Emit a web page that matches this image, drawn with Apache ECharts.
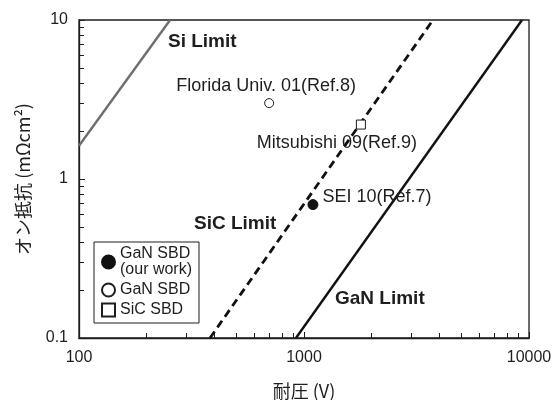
<!DOCTYPE html>
<html>
<head>
<meta charset="utf-8">
<script src="https://cdn.jsdelivr.net/npm/echarts@6/dist/echarts.min.js"></script>
<style>
  html, body { margin: 0; padding: 0; background: #fff; }
  #chart { width: 555px; height: 400px; }
</style>
</head>
<body>
<div id="chart"></div>
<script>
// limit lines (breakdown voltage V, on-resistance mΩcm2)
var siLimit = [[100, 1.62], [254, 10]];
var sicLimit = [[382, 0.1], [3744, 10]];
var ganLimit = [[921, 0.1], [9310, 10]];

// reported devices
var ourWork = [[1096, 0.69]];     // SEI 10
var ganSbd = [[700, 3.0]];        // Florida Univ. 01
var sicSbd = [[1790, 2.2]];       // Mitsubishi 09

var font = 'Liberation Sans, Arial, Noto Sans CJK JP';
var ink = '#1e1e1e';

var myChart = echarts.init(document.getElementById('chart'));
myChart.setOption({
  animation: false,
  textStyle: { fontFamily: font },
  grid: {
    left: 79, right: 26, top: 20, bottom: 62,
    outerBoundsMode: 'none',
    show: true, borderColor: ink, borderWidth: 1.3
  },
  legend: {
    orient: 'vertical',
    left: 94, top: 242,
    padding: [4, 7, 5, 7],
    borderColor: ink, borderWidth: 1,
    itemWidth: 13, itemHeight: 13, itemGap: 4,
    textStyle: { fontSize: 16, color: ink, lineHeight: 16, fontFamily: font },
    data: ['GaN SBD\n(our work)', 'GaN SBD', 'SiC SBD']
  },
  xAxis: {
    type: 'log', logBase: 10, min: 100, max: 10000,
    name: '耐圧 (V)', nameLocation: 'middle', nameGap: 44,
    nameTextStyle: { fontSize: 18, color: ink, fontFamily: 'Noto Sans CJK JP' },
    axisLine: { lineStyle: { color: ink, width: 1.3 } },
    axisTick: { inside: true, length: 6, lineStyle: { color: ink } },
    minorTick: { show: true, splitNumber: 9, length: 5, lineStyle: { color: ink } },
    axisLabel: { fontSize: 16, color: ink, margin: 12, formatter: function (v) { return String(v); } },
    splitLine: { show: false }
  },
  yAxis: {
    type: 'log', logBase: 10, min: 0.1, max: 10,
    name: 'オン抵抗 (mΩcm²)', nameLocation: 'middle', nameGap: 47,
    nameTextStyle: { fontSize: 18, color: ink, fontFamily: 'Noto Sans CJK JP' },
    axisLine: { lineStyle: { color: ink, width: 1.3 } },
    axisTick: { inside: true, length: 6, lineStyle: { color: ink } },
    minorTick: { show: true, splitNumber: 9, length: 5, lineStyle: { color: ink } },
    axisLabel: { fontSize: 16, color: ink, margin: 11, formatter: function (v) { return String(v); } },
    splitLine: { show: false }
  },
  series: [
    {
      name: 'Si Limit', type: 'line', data: siLimit, symbol: 'none',
      lineStyle: { color: '#6e6e6e', width: 2.4 }, z: 2
    },
    {
      name: 'SiC Limit', type: 'line', data: sicLimit, symbol: 'none',
      lineStyle: { color: '#111', width: 2.8, type: [8, 5] }, z: 2
    },
    {
      name: 'GaN Limit', type: 'line', data: ganLimit, symbol: 'none',
      lineStyle: { color: '#111', width: 2.4 }, z: 2
    },
    {
      name: 'GaN SBD\n(our work)', type: 'scatter', data: ourWork,
      symbol: 'circle', symbolSize: 10,
      itemStyle: { color: '#111', borderColor: '#111', borderWidth: 1, opacity: 1 },
      label: {
        show: true, position: 'right', distance: 4, offset: [0, -8],
        formatter: 'SEI 10(Ref.7)', fontSize: 18, color: ink
      }, z: 5
    },
    {
      name: 'GaN SBD', type: 'scatter', data: ganSbd,
      symbol: 'circle', symbolSize: 9,
      itemStyle: { color: '#fff', borderColor: ink, borderWidth: 1, opacity: 1 },
      label: {
        show: true, position: 'top', distance: 3, offset: [-3, 0],
        formatter: 'Florida Univ. 01(Ref.8)', fontSize: 18, color: ink
      }, z: 5
    },
    {
      name: 'SiC SBD', type: 'scatter', data: sicSbd,
      symbol: 'rect', symbolSize: 9,
      itemStyle: { color: '#fff', borderColor: ink, borderWidth: 1, opacity: 1 },
      label: {
        show: true, position: 'bottom', distance: 4, offset: [-24, 0],
        formatter: 'Mitsubishi 09(Ref.9)', fontSize: 18, color: ink
      }, z: 5
    }
  ],
  graphic: [
    { type: 'text', left: 168, top: 32, style: { text: 'Si Limit', font: 'bold 19px ' + font, fill: ink } },
    { type: 'text', left: 194, top: 214, style: { text: 'SiC Limit', font: 'bold 19px ' + font, fill: ink } },
    { type: 'text', left: 335, top: 289, style: { text: 'GaN Limit', font: 'bold 19px ' + font, fill: ink } }
  ]
});
</script>
</body>
</html>
